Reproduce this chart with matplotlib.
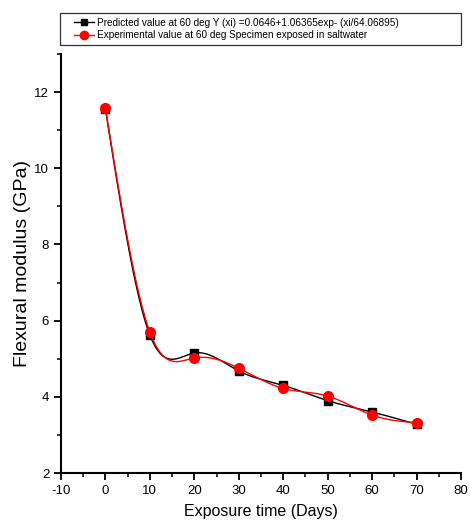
import numpy as np
import matplotlib
matplotlib.use("Agg")
import matplotlib.pyplot as plt
from matplotlib.ticker import MultipleLocator
from matplotlib.patches import Rectangle

days = [0, 10, 20, 30, 40, 50, 60, 70]
predicted = [11.55, 5.62, 5.15, 4.68, 4.30, 3.90, 3.60, 3.28]
experimental = [11.57, 5.70, 5.02, 4.75, 4.22, 4.02, 3.52, 3.32]
label_pred = "Predicted value at 60 deg Y (xi) =0.0646+1.06365exp- (xi/64.06895)"
label_exp = "Experimental value at 60 deg Specimen exposed in saltwater"

plt.rcParams['font.family'] = ['Liberation Sans', 'DejaVu Sans']
plt.rcParams['axes.unicode_minus'] = False


def natural_spline(x, y, n=300):
    x = np.asarray(x, float); y = np.asarray(y, float)
    k = len(x); h = np.diff(x)
    A = np.zeros((k, k)); b = np.zeros(k)
    A[0, 0] = A[-1, -1] = 1
    for i in range(1, k - 1):
        A[i, i - 1] = h[i - 1]; A[i, i] = 2 * (h[i - 1] + h[i]); A[i, i + 1] = h[i]
        b[i] = 3 * ((y[i + 1] - y[i]) / h[i] - (y[i] - y[i - 1]) / h[i - 1])
    c = np.linalg.solve(A, b)
    xs = np.linspace(x[0], x[-1], n); ys = np.empty_like(xs)
    for j, xv in enumerate(xs):
        i = min(np.searchsorted(x, xv, side='right') - 1, k - 2)
        d = xv - x[i]
        bb = (y[i + 1] - y[i]) / h[i] - h[i] * (2 * c[i] + c[i + 1]) / 3
        dd = (c[i + 1] - c[i]) / (3 * h[i])
        ys[j] = y[i] + bb * d + c[i] * d ** 2 + dd * d ** 3
    return xs, ys

W, H = 470, 532
fig = plt.figure(figsize=(W / 100, H / 100), dpi=100)
ax = fig.add_axes([61 / W, 59 / H, 400 / W, 419 / H])

xs, ys = natural_spline(days, predicted)
ax.plot(xs, ys, color='black', lw=1.0)
ax.plot(days, predicted, 's', color='black', ms=6)
xs, ys = natural_spline(days, experimental)
ax.plot(xs, ys, color='red', lw=1.0)
ax.plot(days, experimental, 'o', color='red', ms=7)

ax.set_xlim(-10, 80)
ax.set_ylim(2, 13)
ax.xaxis.set_major_locator(MultipleLocator(10))
ax.xaxis.set_minor_locator(MultipleLocator(5))
ax.yaxis.set_minor_locator(MultipleLocator(1))
ax.set_yticks([2, 4, 6, 8, 10, 12])
for s in ['top', 'right']:
    ax.spines[s].set_visible(False)
for s in ['left', 'bottom']:
    ax.spines[s].set_linewidth(1.5)
ax.tick_params(which='major', length=5, width=1.3, labelsize=9.5)
ax.tick_params(which='minor', length=3, width=1.1)
ax.set_xlabel("Exposure time (Days)", fontsize=11.5, labelpad=5)
ax.set_ylabel("Flexural modulus (GPa)", fontsize=14)
ax.yaxis.set_label_coords(-0.075, 0.5)

# legend frame
fig.patches.append(Rectangle((60 / W, 1 - 45 / H), 401 / W, 32 / H, transform=fig.transFigure,
                             fill=False, edgecolor='#333333', lw=0.9))
h1 = plt.Line2D([], [], color='black', marker='s', ms=5, lw=1.0)
h2 = plt.Line2D([], [], color='red', marker='o', ms=6, lw=1.0)
fig.legend([h1, h2], [label_pred, label_exp], loc='center left',
           bbox_to_anchor=(74 / W, 1 - 29 / H),
           fontsize=7.2, frameon=False,
           handlelength=2.0, handletextpad=0.3, borderpad=0.0, labelspacing=0.3,
           borderaxespad=0)

fig.savefig("out.png", dpi=100)
